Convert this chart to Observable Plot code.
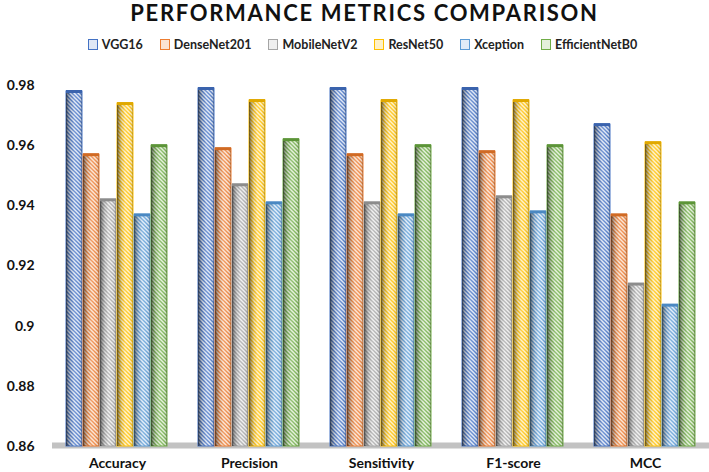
<!DOCTYPE html>
<html><head><meta charset="utf-8">
<script src="https://cdn.jsdelivr.net/npm/d3@7"></script>
<script src="https://cdn.jsdelivr.net/npm/@observablehq/plot@0.6"></script>
<style>
body{margin:0;background:#fff;font-family:Lato,"Open Sans",sans-serif;}
#wrap{width:709px;height:472px;position:relative;overflow:hidden;background:#fff}
#title{position:absolute;left:0;top:1px;width:709px;padding-left:20px;box-sizing:border-box;text-align:center;font-size:22px;font-weight:bold;letter-spacing:1.7px;line-height:24px;color:#111}
#legend{position:absolute;left:0;top:37px;width:709px;display:flex;justify-content:center;gap:17px;font-size:12.5px;font-weight:bold;color:#222;padding-left:16px;box-sizing:border-box}
#legend .it{display:flex;align-items:center;gap:4px}
#legend .sw{width:8px;height:9px;border:1.3px solid}
#chart{position:absolute;left:0;top:62px}
</style></head><body>
<svg width="0" height="0" style="position:absolute"><defs id="defs"></defs></svg>
<div id="wrap">
<div id="title">PERFORMANCE METRICS COMPARISON</div>
<div id="legend"></div>
<div id="chart"></div>
</div>
<script>
const metrics = ["Accuracy", "Precision", "Sensitivity", "F1-score", "MCC"];
const models = ["VGG16", "DenseNet201", "MobileNetV2", "ResNet50", "Xception", "EfficientNetB0"];
const vgg16 = [0.978, 0.979, 0.979, 0.979, 0.967];
const densenet201 = [0.957, 0.959, 0.957, 0.958, 0.937];
const mobilenetv2 = [0.942, 0.947, 0.941, 0.943, 0.914];
const resnet50 = [0.974, 0.975, 0.975, 0.975, 0.961];
const xception = [0.937, 0.941, 0.937, 0.938, 0.907];
const efficientnetb0 = [0.960, 0.962, 0.960, 0.960, 0.941];
const yTicks = [0.86, 0.88, 0.9, 0.92, 0.94, 0.96, 0.98];

const seriesValues = [vgg16, densenet201, mobilenetv2, resnet50, xception, efficientnetb0];
const colors = ["#4472C4", "#ED7D31", "#A5A5A5", "#FFC000", "#5B9BD5", "#70AD47"];
const tints = ["#dfe7f5", "#fbe3d3", "#efefef", "#fff1c7", "#e0ecf8", "#e3f0da"];
const darks = ["#3a63ad", "#d06a24", "#8c8c8c", "#e0a800", "#4a88c2", "#5c9438"];

// defs: hatch patterns + cylinder shading
const NS = "http://www.w3.org/2000/svg";
const defs = document.getElementById("defs");
colors.forEach((c, i) => {
  const p = document.createElementNS(NS, "pattern");
  p.setAttribute("id", "pat" + i);
  p.setAttribute("patternUnits", "userSpaceOnUse");
  p.setAttribute("width", 4); p.setAttribute("height", 4);
  const r = document.createElementNS(NS, "rect");
  r.setAttribute("width", 4); r.setAttribute("height", 4); r.setAttribute("fill", tints[i]);
  const l = document.createElementNS(NS, "path");
  l.setAttribute("d", "M-1,-1L5,5M-1,3L1,5M3,-1L5,1");
  l.setAttribute("stroke", c); l.setAttribute("stroke-width", 1.4); l.setAttribute("stroke-opacity", 0.85);
  p.appendChild(r); p.appendChild(l); defs.appendChild(p);
});
const g = document.createElementNS(NS, "linearGradient");
g.setAttribute("id", "cyl"); g.setAttribute("x1", 0); g.setAttribute("x2", 1); g.setAttribute("y1", 0); g.setAttribute("y2", 0);
[[0, "#000", 0.6], [0.15, "#000", 0.3], [0.32, "#000", 0.08], [0.5, "#fff", 0.15], [0.75, "#fff", 0.05], [0.92, "#000", 0.08], [1, "#000", 0.25]].forEach(([o, c, a]) => {
  const s = document.createElementNS(NS, "stop");
  s.setAttribute("offset", o); s.setAttribute("stop-color", c); s.setAttribute("stop-opacity", a);
  g.appendChild(s);
});
defs.appendChild(g);

// legend
const lg = document.getElementById("legend");
models.forEach((m, i) => {
  const it = document.createElement("div"); it.className = "it";
  const sw = document.createElement("div"); sw.className = "sw";
  sw.style.background = tints[i]; sw.style.borderColor = colors[i];
  const t = document.createElement("span"); t.textContent = m;
  it.appendChild(sw); it.appendChild(t); lg.appendChild(it);
});

const rows = models.flatMap((m, i) => metrics.map((k, j) => ({model: m, metric: k, value: seriesValues[i][j], idx: i})));

const chart = Plot.plot({
  width: 709, height: 410,
  marginLeft: 63, marginRight: 11, marginTop: 23, marginBottom: 26,
  style: {fontFamily: "Lato, 'Open Sans', sans-serif", color: "#111", background: "transparent"},
  fx: {domain: metrics, paddingInner: 0.2, paddingOuter: 0, label: null},
  x: {domain: models, padding: 0.03, axis: null},
  y: {domain: [0.86, 0.98], axis: null},
  color: {type: "identity"},
  marks: [
    Plot.ruleY([0.86], {stroke: "#c2c2c2", strokeWidth: 6, dy: -1, insetLeft: -12, insetRight: -14}),
    Plot.barY(rows, {fx: "metric", x: "model", y1: 0.86, y2: "value", fill: d => `url(#pat${d.idx})`, stroke: d => colors[d.idx], strokeWidth: 1}),
    Plot.barY(rows, {fx: "metric", x: "model", y1: 0.86, y2: "value", fill: "url(#cyl)"}),
    Plot.tickY(rows, {fx: "metric", x: "model", y: "value", stroke: d => darks[d.idx], strokeWidth: 3}),
    Plot.axisY({ticks: yTicks, tickFormat: d => String(+d.toFixed(2)), tickSize: 0, tickPadding: 30, fontSize: 14, fontWeight: "bold", label: null}),
    Plot.axisFx({anchor: "bottom", tickSize: 0, tickPadding: 12, fontSize: 14, fontWeight: "bold", label: null})
  ]
});
document.getElementById("chart").appendChild(chart);
</script>
</body></html>
